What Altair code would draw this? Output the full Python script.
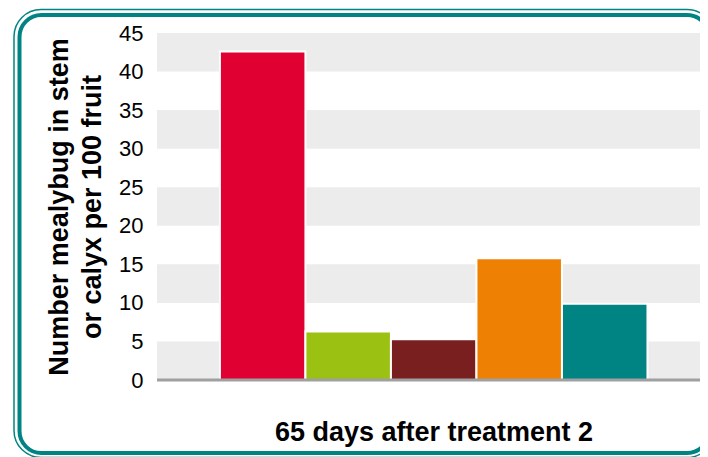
import altair as alt
import pandas as pd

# Data
treatments = ["T1", "T2", "T3", "T4", "T5"]
mealybugs = [42.6, 6.3, 5.3, 15.8, 9.9]
bar_colors = ["#e10032", "#9bc112", "#7a1f20", "#ee8003", "#008483"]
band_lo = [0, 10, 20, 30, 40]
band_hi = [5, 15, 25, 35, 45]
y_ticks = [0, 5, 10, 15, 20, 25, 30, 35, 40, 45]
y_title = ["Number mealybug in stem", "or calyx per 100 fruit"]
x_title = "65 days after treatment 2"

PL, PT = 149, 25          # plot origin inside the svg
W, H = 543, 347
FONT = "Liberation Sans"

bars_df = pd.DataFrame({"treatment": treatments, "value": mealybugs})
bands_df = pd.DataFrame({"lo": band_lo, "hi": band_hi})
one = pd.DataFrame({"a": [0]})

yscale = alt.Scale(domain=[0, 45], nice=False, zero=True)
yaxis = alt.Axis(values=y_ticks, ticks=False, domain=False, grid=False,
                 labelFont=FONT, labelFontSize=22, labelColor="black",
                 labelPadding=14,
                 title=y_title,
                 titleFont=FONT, titleFontSize=27, titleFontWeight="bold",
                 titleColor="black", titleLineHeight=33, titlePadding=12)

bands = alt.Chart(bands_df).mark_rect(color="#ebeceb").encode(
    x=alt.value(0), x2=alt.value(W),
    y=alt.Y("lo:Q", scale=yscale, axis=yaxis), y2="hi:Q",
)

bars = alt.Chart(bars_df).mark_bar(stroke="white", strokeWidth=2).encode(
    x=alt.X("treatment:N", sort=treatments,
            scale=alt.Scale(paddingInner=0.0, paddingOuter=0.675, align=0.545),
            axis=alt.Axis(labels=False, ticks=False, domain=False,
                          title=x_title, titleX=W / 2 + 5,
                          titleFont=FONT, titleFontSize=27, titleFontWeight="bold",
                          titleColor="black", titlePadding=39)),
    y=alt.Y("value:Q", scale=yscale, axis=yaxis),
    color=alt.Color("treatment:N", sort=treatments,
                    scale=alt.Scale(domain=treatments, range=bar_colors), legend=None),
)

baseline = alt.Chart(one).mark_rule(color="#a0a0a0", strokeWidth=3).encode(
    x=alt.value(0), x2=alt.value(W), y=alt.value(H),
)

outer = alt.Chart(one).mark_rect(fillOpacity=0, stroke="#008483", strokeWidth=1.5,
                                 cornerRadius=27).encode(
    x=alt.value(6 - PL), x2=alt.value(706 - PL),
    y=alt.value(1.5 - PT), y2=alt.value(449.5 - PT),
)
inner = alt.Chart(one).mark_rect(fillOpacity=0, stroke="#008483", strokeWidth=4,
                                 cornerRadius=22).encode(
    x=alt.value(11.5 - PL), x2=alt.value(701 - PL),
    y=alt.value(7 - PT), y2=alt.value(445 - PT),
)

chart = alt.layer(bands, bars, baseline, outer, inner).properties(
    width=W, height=H,
    autosize=alt.AutoSizeParams(type="none"),
    padding={"left": PL, "top": PT, "right": 692 - PL - W, "bottom": 449 - PT - H},
    background="white",
).configure_view(stroke=None)

chart.save("out.html", embed_options={"renderer": "svg", "actions": False})
